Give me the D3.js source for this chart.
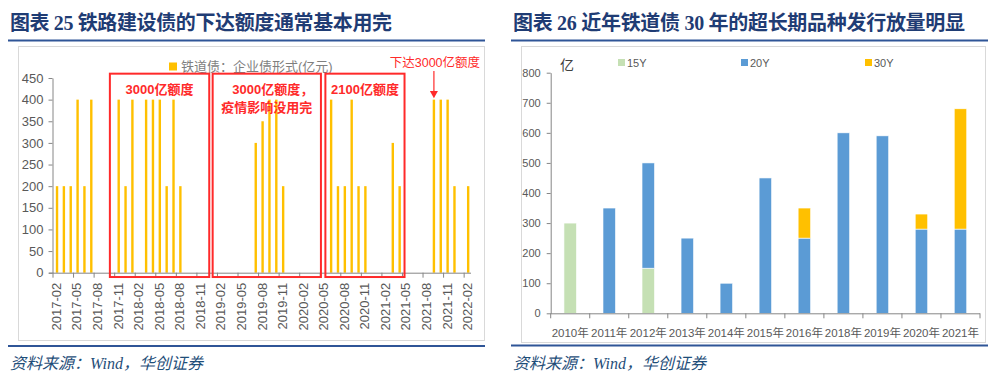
<!DOCTYPE html>
<html><head><meta charset="utf-8">
<script src="https://cdn.jsdelivr.net/npm/d3@7"></script>
<style>
body{margin:0;background:#fff;}
svg{display:block;}
</style></head><body>
<svg id="c" width="1000" height="380"></svg>
<script>
// ---------- Left chart data (铁道债：企业债形式, 亿元) ----------
const issueMonths = ["2017-02","2017-03","2017-04","2017-05","2017-06","2017-07",
  "2017-11","2017-12","2018-01","2018-03","2018-04","2018-05","2018-06","2018-07","2018-08",
  "2019-07","2019-08","2019-09","2019-10","2019-11",
  "2020-06","2020-07","2020-08","2020-09","2020-10","2020-11","2021-03","2021-04",
  "2021-09","2021-10","2021-11","2021-12","2022-02"];
const issueAmounts = [200,200,200,400,200,400,
  400,200,400,400,400,400,200,400,200,
  300,350,400,400,200,
  400,200,200,400,200,200,300,200,
  400,400,400,200,200];
const monthTickLabels = ["2017-02","2017-05","2017-08","2017-11","2018-02","2018-05","2018-08","2018-11",
  "2019-02","2019-05","2019-08","2019-11","2020-02","2020-05","2020-08","2020-11",
  "2021-02","2021-05","2021-08","2021-11","2022-02"];
const leftYTicks = [0,50,100,150,200,250,300,350,400,450];
const leftLegend = "铁道债：企业债形式(亿元)";
// quota boxes in month-index units and value units
const boxLabels = [["3000亿额度"],["3000亿额度，","疫情影响没用完"],["2100亿额度"]];
const boxFrom = [8.3, 23.3, 39.75];
const boxTo = [22.8, 39.1, 51.3];
const boxTop = 460, boxBottom = -10;
const arrowLabel = "下达3000亿额度";
const arrowMonth = "2021-09";

// ---------- Right chart data (亿) ----------
const years = ["2010年","2011年","2012年","2013年","2014年","2015年","2016年","2018年","2019年","2020年","2021年"];
const y15 = [300,0,150,0,0,0,0,0,0,0,0];
const y20 = [0,350,350,250,100,450,250,600,590,280,280];
const y30 = [0,0,0,0,0,0,100,0,0,50,400];
const seriesNames = ["15Y","20Y","30Y"];
const rightYTicks = [0,100,200,300,400,500,600,700,800];

const svg = d3.select("#c");
const CJK = "'Liberation Sans','Noto Sans CJK SC',sans-serif";
const TITLE_FONT = "'Liberation Serif','Noto Sans CJK SC',serif";
const BLUE = "#1F3C74", RULE = "#2F5597", GRAY = "#595959";

// ---------- Headers / footers ----------
function frame(x0, x1, title, titleLen, ruleTop, ruleBot, srcY, box) {
  svg.append("text").attr("x", x0 + 2).attr("y", 29.5).text(title)
    .attr("font-family", TITLE_FONT).attr("font-weight", "bold").attr("font-size", 20)
    .attr("textLength", titleLen).attr("lengthAdjust", "spacing")
    .attr("fill", BLUE);
  svg.append("line").attr("x1", x0).attr("x2", x1).attr("y1", ruleTop).attr("y2", ruleTop)
    .attr("stroke", RULE).attr("stroke-width", 2);
  svg.append("line").attr("x1", x0).attr("x2", x1).attr("y1", ruleBot).attr("y2", ruleBot)
    .attr("stroke", RULE).attr("stroke-width", 2);
  svg.append("rect").attr("x", box[0]).attr("y", box[1]).attr("width", box[2]).attr("height", box[3])
    .attr("fill", "none").attr("stroke", "#D9D9D9");
  svg.append("text").attr("x", x0 + 2).attr("y", srcY).text("资料来源：Wind，华创证券")
    .attr("font-family", TITLE_FONT).attr("font-style", "italic").attr("font-size", 16)
    .attr("fill", "#1F4E79");
}
frame(8, 485, "图表 25  铁路建设债的下达额度通常基本用完", 382, 40.5, 346, 369, [18.5, 46.5, 466, 294]);
frame(511, 988, "图表 26  近年铁道债 30 年的超长期品种发行放量明显", 452, 40.5, 345.5, 369, [521.5, 46.5, 464, 296]);

// ---------- Left chart ----------
const parse = d3.timeParse("%Y-%m"), fmt = d3.timeFormat("%Y-%m");
const allMonths = d3.timeMonth.range(parse("2017-02"), d3.timeMonth.offset(parse("2022-02"), 1)).map(fmt);
const xL = d3.scaleBand().domain(allMonths).range([53, 471]);
const yL = d3.scaleLinear().domain([0, 450]).range([272.7, 78]);
const xIdx = i => xL.range()[0] + i * xL.step();
const gL = svg.append("g");

// bars
const barW = 2.4;
gL.selectAll("rect.bar").data(issueMonths).join("rect")
  .attr("x", (m) => xL(m) + xL.bandwidth() / 2 - barW / 2 + 0.6)
  .attr("y", (m, i) => yL(issueAmounts[i]))
  .attr("width", barW)
  .attr("height", (m, i) => yL(0) - yL(issueAmounts[i]))
  .attr("fill", "#FFC000");

// y axis
const yAxL = gL.append("g").attr("transform", `translate(${xL.range()[0] - 0.5},0)`)
  .call(d3.axisLeft(yL).tickValues(leftYTicks).tickSize(4).tickPadding(5).tickSizeOuter(0));
yAxL.selectAll("text").attr("font-family", CJK).attr("font-size", 13).attr("fill", GRAY);
yAxL.selectAll("line,path").attr("stroke", "#868686");

// x axis
const xAxG = gL.append("g");
xAxG.append("line").attr("x1", xL.range()[0] - 4).attr("x2", xL.range()[1]).attr("y1", yL(0) + 0.5).attr("y2", yL(0) + 0.5)
  .attr("stroke", "#868686");
const tickIdx = monthTickLabels.map(l => allMonths.indexOf(l));
xAxG.selectAll("line.t").data(tickIdx).join("line")
  .attr("x1", i => xIdx(i)).attr("x2", i => xIdx(i))
  .attr("y1", yL(0)).attr("y2", yL(0) + 5).attr("stroke", "#868686");
xAxG.selectAll("text").data(monthTickLabels).join("text")
  .attr("transform", l => `translate(${xL(l) + xL.bandwidth() / 2 + 4.5},${yL(0) + 10}) rotate(-90)`)
  .attr("text-anchor", "end").text(l => l)
  .attr("font-family", CJK).attr("font-size", 13).attr("fill", GRAY);

// legend
gL.append("rect").attr("x", 169).attr("y", 62.5).attr("width", 8).attr("height", 8).attr("fill", "#FFC000");
gL.append("text").attr("x", 181).attr("y", 71).text(leftLegend)
  .attr("font-family", CJK).attr("font-size", 13).attr("fill", "#7F7F7F");

// quota boxes
const RED = "#FF2A2A";
boxLabels.forEach((lines, k) => {
  const x0 = xIdx(boxFrom[k]), x1 = xIdx(boxTo[k]);
  gL.append("rect").attr("x", x0).attr("y", yL(boxTop)).attr("width", x1 - x0)
    .attr("height", yL(boxBottom) - yL(boxTop))
    .attr("fill", "none").attr("stroke", RED).attr("stroke-width", 2);
  lines.forEach((t, j) => {
    gL.append("text").attr("x", (x0 + x1) / 2 + (t.endsWith("，") ? 6 : 0)).attr("y", 94 + j * 17.5)
      .attr("text-anchor", "middle").text(t)
      .attr("font-family", CJK).attr("font-weight", "bold").attr("font-size", 13).attr("fill", RED);
  });
});
// arrow annotation
const ax = xL(arrowMonth) + xL.bandwidth() / 2 + 0.6;
gL.append("text").attr("x", ax + 1).attr("y", 66.5).attr("text-anchor", "middle").text(arrowLabel)
  .attr("font-family", CJK).attr("font-size", 12.5).attr("fill", RED);
gL.append("line").attr("x1", ax).attr("x2", ax).attr("y1", yL(466)).attr("y2", yL(418))
  .attr("stroke", RED).attr("stroke-width", 1.2);
gL.append("path").attr("d", `M${ax - 4},${yL(420)} L${ax + 4},${yL(420)} L${ax},${yL(403)} Z`).attr("fill", RED);

// ---------- Right chart ----------
const xR = d3.scaleBand().domain(years).range([550.7, 980]).paddingInner(0.68).paddingOuter(0.34);
const yR = d3.scaleLinear().domain([0, 800]).range([313.3, 72.7]);
const colors = {"15Y": "#C5E0B4", "20Y": "#5B9BD5", "30Y": "#FFC000"};
const table = years.map((y, i) => ({year: y, "15Y": y15[i], "20Y": y20[i], "30Y": y30[i]}));
const stack = d3.stack().keys(seriesNames)(table);
const gR = svg.append("g");
stack.forEach(s => {
  gR.selectAll(null).data(s).join("rect")
    .attr("x", d => xR(d.data.year))
    .attr("y", d => yR(d[1]))
    .attr("width", xR.bandwidth())
    .attr("height", d => yR(d[0]) - yR(d[1]))
    .attr("fill", colors[s.key])
    .attr("stroke", d => (d[1] - d[0]) > 0 ? "#fff" : "none").attr("stroke-width", 0.6);
});
// y axis
const yAxR = gR.append("g").attr("transform", `translate(${xR.range()[0]},0)`)
  .call(d3.axisLeft(yR).tickValues(rightYTicks).tickSize(4).tickPadding(6).tickSizeOuter(0));
yAxR.selectAll("text").attr("font-family", CJK).attr("font-size", 11).attr("fill", GRAY);
yAxR.selectAll("line,path").attr("stroke", "#868686");
// x axis
const xAxR = gR.append("g");
xAxR.append("line").attr("x1", xR.range()[0]).attr("x2", xR.range()[1]).attr("y1", yR(0) + 0.5).attr("y2", yR(0) + 0.5)
  .attr("stroke", "#868686");
const bounds = d3.range(years.length + 1).map(i => xR.range()[0] + i * xR.step());
xAxR.selectAll("line.t").data(bounds).join("line")
  .attr("x1", d => d).attr("x2", d => d).attr("y1", yR(0)).attr("y2", yR(0) + 5).attr("stroke", "#868686");
xAxR.selectAll("text").data(years).join("text")
  .attr("x", d => xR(d) + xR.bandwidth() / 2).attr("y", 337)
  .attr("text-anchor", "middle").text(d => d)
  .attr("font-family", CJK).attr("font-size", 11.5).attr("fill", GRAY);
// unit
gR.append("text").attr("x", 560).attr("y", 70).text("亿")
  .attr("font-family", CJK).attr("font-size", 14).attr("fill", "#404040");
// legend
const legX = [618, 741, 865];
seriesNames.forEach((n, i) => {
  gR.append("rect").attr("x", legX[i]).attr("y", 59).attr("width", 7).attr("height", 7).attr("fill", colors[n]);
  gR.append("text").attr("x", legX[i] + 9).attr("y", 66.5).text(n)
    .attr("font-family", CJK).attr("font-size", 11).attr("fill", GRAY);
});
</script>
</body></html>
